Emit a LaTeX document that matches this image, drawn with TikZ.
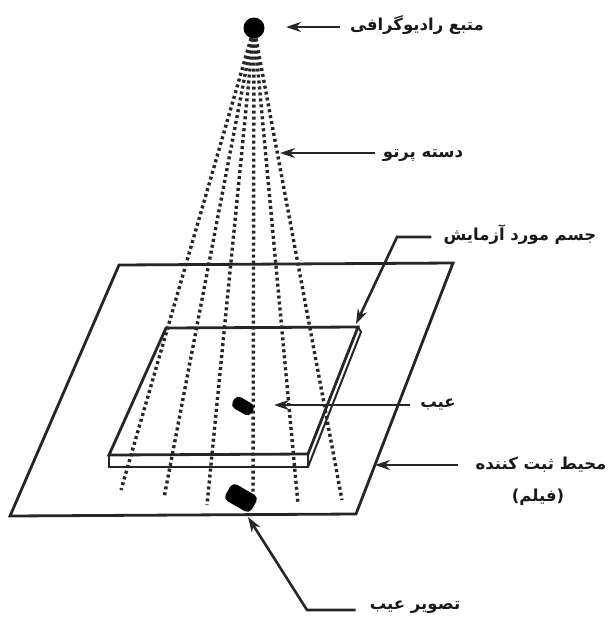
\documentclass[tikz,border=0pt]{standalone}
\usepackage{fontspec}
\newfontfamily\arabicfont[Script=Arabic]{DejaVu Sans}
\TeXXeTstate=1
\usepackage{tikz}
\usetikzlibrary{arrows.meta}

\begin{document}
\begin{tikzpicture}[
    x=1pt, y=-1pt,
    label/.style={inner sep=0pt, font=\arabicfont\bfseries\fontsize{16.5}{18}\selectfont, text=black!90},
    sheet/.style={draw=black!85, line width=2.8pt, line join=miter},
    thin sheet/.style={draw=black!85, line width=2pt},
    ray/.style={draw=black!85, line width=3.4pt, dash pattern=on 3pt off 3pt},
    arrow/.style={-{Stealth[length=15pt,width=10pt]}, draw=black!85, line width=2.6pt},
    blob/.style={draw=none, fill=black, rectangle, rounded corners=5pt, inner sep=0pt}
]
    \useasboundingbox (0,0) rectangle (608,630);

    % film and plate
    \draw[sheet] (119,265) -- (453,263) -- (356,514) -- (10,516) -- cycle;
    \draw[sheet] (166,328) -- (358,327) -- (308,454) -- (109,455) -- cycle;
    \draw[sheet] (109,455) -- (109,467) -- (308,467) -- (308,454);
    \draw[thin sheet] (308,467) -- (361,332) -- (358,327);

    % source and rays
    \node[circle, fill=black, minimum size=21pt, inner sep=0pt] (source) at (254,28) {};
    \foreach \i/\x/\y in {1/121/490, 2/164/498, 3/207/505, 4/253/507, 5/298/504, 6/342/500} {
        \coordinate (rayend\i) at (\x,\y);
        \draw[ray] (source) -- (rayend\i);
    }

    % defect and its image
    \node[blob, minimum width=22pt, minimum height=13pt, rotate=-30] (defect) at (243,406) {};
    \node[blob, minimum width=30pt, minimum height=19pt, rotate=-30] (image) at (241,498) {};

    % labels
    \node[label] (labsource) at (417,25) {\beginR متبع رادیوگرافی\endR};
    \node[label] (labbeam) at (423,155) {\beginR دسته پرتو\endR};
    \node[label] (labobject) at (520,235) {\beginR جسم مورد آزمایش\endR};
    \node[label] (labdefect) at (438,405) {\beginR عیب\endR};
    \node[label] (labfilm) at (541,465) {\beginR محیط ثبت کننده\endR};
    \node[label] (labfilmb) at (538,497) {\beginR (فیلم)\endR};
    \node[label] (labimage) at (415,607) {\beginR تصویر عیب\endR};

    % pointers
    \coordinate (tipsource) at (286,27);
    \coordinate (tipbeam) at (280,153);
    \coordinate (tipobject) at (356,324);
    \coordinate (tipdefect) at (274,405);
    \coordinate (tipfilm) at (375,465);
    \coordinate (tipimage) at (248,517);
    \coordinate (bendobject) at (397,237);
    \coordinate (bendimage) at (307,610);

    \draw[arrow] (labsource.west |- tipsource) ++(-10,0) -- (tipsource);
    \draw[arrow] (labbeam.west |- tipbeam) ++(-8,0) -- (tipbeam);
    \draw[arrow] (labobject.west |- bendobject) ++(-12,0) -- (bendobject) -- (tipobject);
    \draw[arrow] (labdefect.west) ++(-10,0) -- (tipdefect);
    \draw[arrow] (labfilm.west |- tipfilm) ++(-17,0) -- (tipfilm);
    \draw[arrow] (labimage.west |- bendimage) ++(-14,0) -- (bendimage) -- (tipimage);
\end{tikzpicture}
\end{document}
